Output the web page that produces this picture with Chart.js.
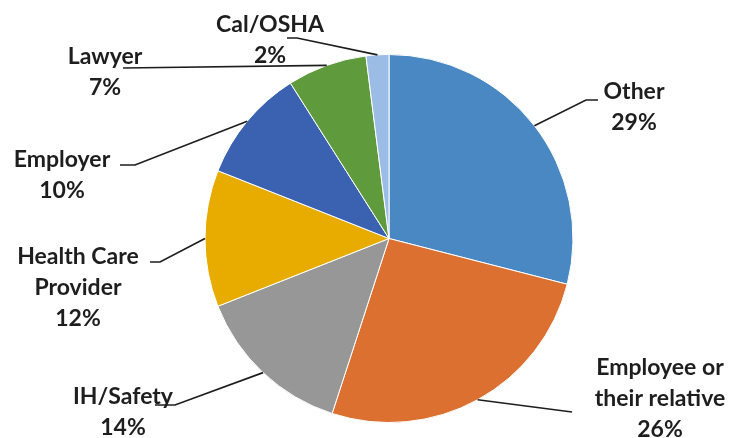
<!DOCTYPE html>
<html>
<head>
<meta charset="utf-8">
<script src="https://cdn.jsdelivr.net/npm/chart.js@4"></script>
<style>
  body { margin: 0; background: #fff; }
  #wrap { width: 733px; height: 438px; }
</style>
</head>
<body>
<div id="wrap"><canvas id="pieChart"></canvas></div>
<script>
const categories = ['Other', 'Employee or their relative', 'IH/Safety', 'Health Care Provider', 'Employer', 'Lawyer', 'Cal/OSHA'];
const percents = [29, 26, 14, 12, 10, 7, 2];
const labelLines = [['Other'], ['Employee or', 'their relative'], ['IH/Safety'], ['Health Care', 'Provider'], ['Employer'], ['Lawyer'], ['Cal/OSHA']];
const colors = ['#4a88c4', '#db7030', '#979797', '#e8ab00', '#3a62b0', '#5f9b3d', '#9bbde5'];

// where each label sits and how its leader line bends (layout only)
const labelLayout = [
  { x: 634, y: 92,  bend: [[586, 100], [598, 100]] },
  { x: 660, y: 368, bend: [[572, 412]] },
  { x: 123, y: 397, bend: [[175, 405], [155, 405]] },
  { x: 78,  y: 257, bend: [[160, 262], [150, 262]] },
  { x: 62,  y: 160, bend: [[135, 165], [120, 165]] },
  { x: 105, y: 57,  bend: [[123, 68]] },
  { x: 270, y: 25,  bend: [[297, 38], [287, 38]] }
];

const outsideLabels = {
  id: 'outsideLabels',
  afterDatasetsDraw(chart) {
    const ctx = chart.ctx;
    const arcs = chart.getDatasetMeta(0).data;
    ctx.save();
    arcs.forEach((arc, i) => {
      const mid = (arc.startAngle + arc.endAngle) / 2;
      const ax = arc.x + Math.cos(mid) * arc.outerRadius;
      const ay = arc.y + Math.sin(mid) * arc.outerRadius;
      const lay = labelLayout[i];
      ctx.strokeStyle = '#1e1e1e';
      ctx.lineWidth = 1.7;
      ctx.beginPath();
      ctx.moveTo(ax, ay);
      lay.bend.forEach(p => ctx.lineTo(p[0], p[1]));
      ctx.stroke();

      ctx.fillStyle = '#1e1e1e';
      ctx.font = 'bold 23px Lato';
      ctx.textAlign = 'center';
      ctx.textBaseline = 'middle';
      const lines = labelLines[i].concat([percents[i] + '%']);
      lines.forEach((t, j) => ctx.fillText(t, lay.x, lay.y + j * 31));
    });
    ctx.restore();
  }
};

new Chart(document.getElementById('pieChart'), {
  type: 'pie',
  data: {
    labels: categories,
    datasets: [{
      data: percents,
      backgroundColor: colors,
      borderColor: '#ffffff',
      borderWidth: 1,
      hoverOffset: 0
    }]
  },
  options: {
    responsive: true,
    maintainAspectRatio: false,
    animation: false,
    layout: { padding: { left: 45, right: 0, top: 54, bottom: 15 } },
    plugins: {
      legend: { display: false },
      tooltip: { enabled: false }
    }
  },
  plugins: [outsideLabels]
});
</script>
</body>
</html>
